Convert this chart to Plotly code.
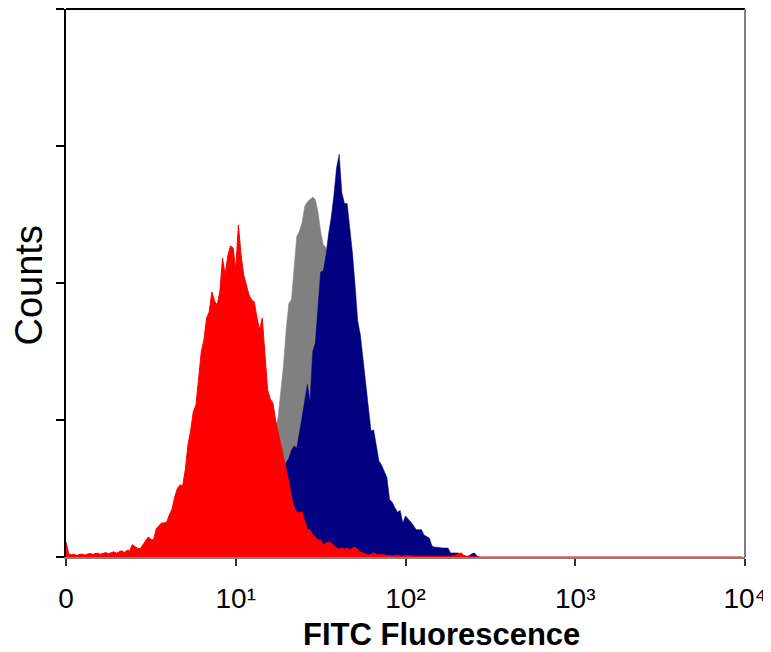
import plotly.graph_objects as go

# ---- data (histogram counts per channel, 64 channels per decade, 4 decades) ----
CHANNELS_PER_DECADE = 64
N_CHANNELS = 256

red_counts = [
    5.5, 1.2, 0.8, 1.0, 0.6, 0.9, 1.1, 0.7, 1.0, 1.3,
    1.0, 1.2, 1.4, 1.0, 1.3, 1.6, 1.2, 1.5, 1.9, 1.4,
    1.8, 2.3, 1.6, 2.4, 2.2, 4.5, 3.8, 3.2, 3.0, 4.5,
    6.0, 7.3, 6.5, 6.2, 10.2, 11.3, 12.4, 12.4, 12.8, 15.5,
    17.5, 22.0, 25.0, 26.3, 26.0, 32.0, 41.0, 46.0, 53.0, 55.5,
    64.6, 74.8, 79.2, 87.2, 89.4, 96.7, 93.4, 92.0, 96.7, 109.1,
    102.9, 109.9, 113.5, 112.8, 104.8, 121.2, 110.2, 102.9, 99.3, 95.6,
    93.8, 93.1, 87.2, 82.9, 87.2, 73.7, 61.0, 57.7, 56.2, 50.0,
    45.6, 40.9, 36.1, 31.8, 27.4, 21.9, 18.3, 16.4, 16.1, 16.4,
    13.5, 9.9, 9.9, 8.0, 7.3, 6.2, 6.2, 4.4, 5.1, 5.5,
    5.1, 4.0, 3.3, 2.9, 3.3, 2.9, 3.3, 2.6, 3.3, 3.6,
    2.6, 1.8, 1.5, 1.1, 0.7, 1.1, 1.5, 1.1, 0.7, 1.1,
    0.7, 0.5, 0.6, 0.4, 0.5, 0.7, 0.4, 0.3, 0.5, 0.4,
    0.3, 0.4, 0.3, 0.2, 0.3, 0.2, 0.3, 0.2, 0.2, 0.3,
    0.2, 0.2, 0.1, 0.2, 0.1, 0.2, 0.3, 0.6, 1.2, 1.5,
    0.6, 0.2, 0.1, 0.0, 0.0, 0.0, 0.0, 0.0, 0.0, 0.0,
]

navy_start = 70
navy_counts = [
    4.0, 7.0, 10.0, 14.0, 17.0, 20.0, 23.0, 26.0, 28.0, 30.0,      # 70-79
    31.0, 32.0, 33.0, 34.5, 36.0, 39.0, 40.5, 39.8, 45.0, 51.0,    # 80-89
    57.0, 63.0, 56.6, 75.0, 78.0, 92.0, 104.0, 104.5, 110.0, 118.0,  # 90-99
    124.0, 132.0, 142.0, 147.0, 133.0, 129.0, 129.0, 120.0, 111.0, 99.0,  # 100-109
    86.0, 81.0, 72.0, 62.0, 53.0, 46.0, 46.4, 40.0, 35.0, 33.5,    # 110-119
    31.0, 29.0, 21.0, 20.0, 18.0, 16.4, 17.0, 12.4, 15.0, 14.0,    # 120-129
    12.8, 11.5, 10.0, 9.9, 10.0, 8.0, 7.5, 6.9, 4.0, 3.6,          # 130-139
    3.6, 3.4, 3.3, 3.3, 3.3, 1.5, 1.5, 1.5, 1.5, 0.5,              # 140-149
    0.3, 0.3, 0.5, 1.2, 1.5, 0.3, 0.0,                             # 150-156
]

gray_start = 72
gray_counts = [
    10.0, 14.0, 18.0, 22.0, 27.0, 33.0, 40.0, 46.0,                # 72-79
    51.5, 60.0, 70.0, 83.0, 92.5, 94.0, 105.0, 117.0, 119.0, 122.0,  # 80-89
    128.0, 129.6, 130.5, 131.4, 130.5, 126.0, 119.0, 114.0, 113.0, 100.0,  # 90-99
    90.0, 78.0, 66.0, 56.0, 46.0, 38.0, 30.0, 24.0, 18.0, 14.0,    # 100-109
    10.0, 7.0, 5.0, 3.0, 2.0, 1.0, 0.0,                            # 110-116
]

tick_vals = [1, 10, 100, 1000, 10000]
tick_text = ["0", "10\u00b9", "10\u00b2", "10\u00b3", "10\u2074"]
y_ticks = [0, 50, 100, 150, 200]


def channel_to_value(c):
    return 10 ** (c / CHANNELS_PER_DECADE)


red_full = red_counts + [0.0] * (N_CHANNELS - len(red_counts))
red_x = [channel_to_value(c) for c in range(N_CHANNELS)]
navy_x = [channel_to_value(navy_start + i) for i in range(len(navy_counts))]
gray_x = [channel_to_value(gray_start + i) for i in range(len(gray_counts))]

fig = go.Figure()
fig.add_trace(go.Scatter(x=gray_x, y=gray_counts, mode="lines", fill="tozeroy",
                         line=dict(color="#808080", width=0.5), fillcolor="#808080",
                         hoverinfo="skip", showlegend=False))
fig.add_trace(go.Scatter(x=navy_x, y=navy_counts, mode="lines", fill="tozeroy",
                         line=dict(color="#000080", width=0.5), fillcolor="#000080",
                         hoverinfo="skip", showlegend=False))
fig.add_trace(go.Scatter(x=red_x, y=red_full, mode="lines", fill="tozeroy",
                         line=dict(color="#FF0000", width=1), fillcolor="#FF0000",
                         hoverinfo="skip", showlegend=False))

tick_font = dict(family="Liberation Sans, Arial", size=28, color="black")

# the page body has an 8px margin, so the figure is 8px smaller than the window
fig.update_layout(
    width=763, height=644,
    margin=dict(l=58, r=26, t=1, b=95),
    paper_bgcolor="white", plot_bgcolor="white",
    xaxis=dict(type="log", range=[0, 4], tickvals=tick_vals, ticktext=tick_text,
               ticks="outside", ticklen=7, tickwidth=1.5, tickcolor="#333333",
               showline=True, linecolor="#808080", linewidth=2,
               showgrid=False, zeroline=False, tickfont=tick_font,
               ticklabelstandoff=8),
    yaxis=dict(range=[0, 200], tickvals=y_ticks, showticklabels=False,
               ticks="outside", ticklen=8, tickwidth=1.5, tickcolor="black",
               showline=True, linecolor="black", linewidth=2,
               showgrid=False, zeroline=False),
    shapes=[
        dict(type="line", xref="paper", yref="paper", x0=0, x1=1, y0=1, y1=1,
             line=dict(color="black", width=2)),
        dict(type="line", xref="paper", yref="paper", x0=1, x1=1, y0=0, y1=1,
             line=dict(color="#808080", width=2)),
    ],
    annotations=[
        dict(text="Counts", xref="paper", yref="paper", x=-0.054, y=0.496,
             xanchor="center", yanchor="middle", textangle=-90, showarrow=False,
             font=dict(family="Liberation Sans, Arial", size=38, color="black")),
        dict(text="<b>FITC Fluorescence</b>", xref="paper", yref="paper", x=0.553, y=-0.141,
             xanchor="center", yanchor="middle", showarrow=False,
             font=dict(family="Liberation Sans, Arial", size=31, color="black")),
    ],
)

fig.write_html("out.html")
